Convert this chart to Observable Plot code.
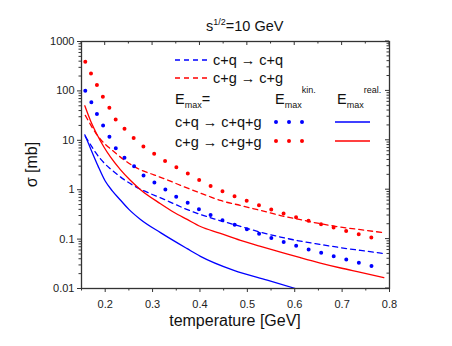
<!DOCTYPE html>
<html><head><meta charset="utf-8">
<script src="https://cdn.jsdelivr.net/npm/d3@7"></script>
<script src="https://cdn.jsdelivr.net/npm/@observablehq/plot@0.6"></script>
<style>body{margin:0;background:#fff}</style>
</head><body><div id="chart"></div>
<script>
// ---- tick values / labels ----
const xTicks = [0.2, 0.3, 0.4, 0.5, 0.6, 0.7, 0.8];
const xTickLabels = ["0.2", "0.3", "0.4", "0.5", "0.6", "0.7", "0.8"];
const xMinorTicks = [0.15, 0.25, 0.35, 0.45, 0.55, 0.65, 0.75];
const yTicks = [0.01, 0.1, 1, 10, 100, 1000];
const yTickLabels = ["0.01", "0.1", "1", "10", "100", "1000"];
const yMinorTicks = [0.01, 0.1, 1, 10, 100].flatMap(d => [2,3,4,5,6,7,8,9].map(k => +(d * k).toPrecision(3)));

// ---- series: temperature [GeV] and sigma [mb] ----
// c+q -> c+q (dashed blue)
const qqT = [0.158,0.17,0.18,0.19,0.2,0.21,0.225,0.24,0.2745,0.2956,0.3207,0.3448,0.372,0.401,0.4292,0.4575,0.4856,0.5278,0.57,0.612,0.654,0.697,0.739,0.788];
const qqS = [12,7.9,5.6,4.2,3.3,2.7,2.05,1.6,1.02,0.83,0.66,0.52,0.40,0.315,0.258,0.215,0.18,0.138,0.11,0.091,0.078,0.067,0.059,0.051];
// c+g -> c+g (dashed red)
const ggT = [0.158,0.17,0.18,0.19,0.2,0.21,0.225,0.24,0.2745,0.3026,0.331,0.359,0.387,0.415,0.443,0.4856,0.528,0.57,0.612,0.654,0.697,0.739,0.788];
const ggS = [32,20,14,10.5,8.3,6.9,5.2,4.0,2.52,2.0,1.58,1.22,0.96,0.76,0.605,0.48,0.38,0.30,0.247,0.205,0.175,0.155,0.135];
// c+q -> c+q+g, E_max kin. (dotted blue)
const qqgKinT = [0.158,0.171,0.182,0.195,0.208,0.22,0.238,0.257,0.2785,0.2995,0.324,0.348,0.372,0.394,0.417,0.443,0.468,0.4925,0.519,0.545,0.57,0.596,0.621,0.6475,0.673,0.699,0.7255,0.751,0.778];
const qqgKinS = [101,58.6,35,20.5,12.3,7.47,4.69,3.23,2.03,1.49,1.06,0.74,0.56,0.42,0.326,0.25,0.205,0.167,0.135,0.11,0.091,0.077,0.065,0.0556,0.0475,0.0407,0.0349,0.0304,0.0264];
// c+g -> c+g+g, E_max kin. (dotted red)
const gggKinT = [0.158,0.17,0.182,0.194,0.208,0.22,0.238,0.257,0.278,0.3,0.325,0.35,0.376,0.417,0.468,0.493,0.57,0.648,0.726,0.778];
const gggKinS = [389,226,135,80,47,28.4,18.3,11.9,7.8,5.6,3.9,2.85,2.09,1.26,0.774,0.625,0.346,0.21,0.132,0.0986];
// c+q -> c+q+g, E_max real. (solid blue)
const qqgRealT = [0.157,0.165,0.175,0.185,0.2,0.215,0.232,0.25,0.2745,0.3167,0.373,0.401,0.4715,0.542,0.6016];
const qqgRealS = [12.9,8.5,5.0,3.0,1.5,0.95,0.62,0.4,0.25,0.135,0.064,0.0448,0.0233,0.0147,0.01];
// c+g -> c+g+g, E_max real. (solid red)
const gggRealT = [0.157,0.169,0.183,0.197,0.211,0.232,0.253,0.2745,0.3167,0.3448,0.373,0.401,0.4415,0.4856,0.5278,0.57,0.612,0.654,0.697,0.739,0.788];
const gggRealS = [50,25,13,7.4,4.6,2.55,1.55,1.0,0.52,0.35,0.25,0.18,0.132,0.094,0.071,0.0546,0.042,0.0327,0.026,0.0212,0.0166];

const BLUE = "#0000ff", RED = "#ff0000";
const rows = (T, S) => T.map((t, i) => ({T: t, s: S[i]}));
const common = {x: "T", y: "s", curve: "monotone-x", clip: true};
const dashed = {strokeWidth: 1.3, strokeDasharray: "5,4"};
const dotted = {strokeWidth: 4, strokeDasharray: "0,13", strokeLinecap: "round"};
const solid = {strokeWidth: 1.3};

const plot = Plot.plot({
  width: 452, height: 346,
  marginLeft: 81, marginRight: 63, marginTop: 41, marginBottom: 58,
  x: {domain: [0.15, 0.8], label: null},
  y: {type: "log", domain: [0.01, 1000], label: null},
  style: {fontFamily: "'Liberation Sans', Arial, sans-serif", fontSize: "11px", color: "#222", background: "#fff"},
  marks: [
    Plot.line(rows(qqT, qqS), {...common, ...dashed, stroke: BLUE}),
    Plot.line(rows(ggT, ggS), {...common, ...dashed, stroke: RED}),
    Plot.line(rows(qqgKinT, qqgKinS), {...common, ...dotted, stroke: BLUE}),
    Plot.line(rows(gggKinT, gggKinS), {...common, ...dotted, stroke: RED}),
    Plot.line(rows(qqgRealT, qqgRealS), {...common, ...solid, stroke: BLUE}),
    Plot.line(rows(gggRealT, gggRealS), {...common, ...solid, stroke: RED}),
    Plot.axisX({ticks: xTicks, tickSize: 4, tickPadding: 8, tickFormat: d => xTickLabels[xTicks.indexOf(d)], label: null, stroke: "#333"}),
    Plot.axisX({ticks: xMinorTicks, tickSize: 2.5, tickFormat: () => "", label: null, stroke: "#333"}),
    Plot.axisY({ticks: yTicks, tickSize: 4, tickPadding: 3, tickFormat: d => yTickLabels[yTicks.indexOf(d)], label: null, stroke: "#333"}),
    Plot.axisY({ticks: yMinorTicks, tickSize: 2.5, tickFormat: () => "", label: null, stroke: "#333"}),
    Plot.frame({stroke: "#333", strokeWidth: 1.3})
  ]
});
document.getElementById("chart").appendChild(plot);

// ---- mirrored inward ticks on top and right, labels, legend ----
const svg = d3.select(plot);
const sx = v => plot.scale("x").apply(v);
const sy = v => plot.scale("y").apply(v);
const L = sx(0.15), R = sx(0.8), T0 = sy(1000), B = sy(0.01);
const g = svg.append("g").attr("stroke", "#333").attr("stroke-width", 1);
xTicks.forEach(v => g.append("line").attr("x1", sx(v)).attr("x2", sx(v)).attr("y1", T0).attr("y2", T0 + 4));
xMinorTicks.forEach(v => g.append("line").attr("x1", sx(v)).attr("x2", sx(v)).attr("y1", T0).attr("y2", T0 + 2.5));
yTicks.forEach(v => g.append("line").attr("x1", R).attr("x2", R - 4).attr("y1", sy(v)).attr("y2", sy(v)));
yMinorTicks.forEach(v => g.append("line").attr("x1", R).attr("x2", R - 2.5).attr("y1", sy(v)).attr("y2", sy(v)));

const FONT = "'Liberation Sans', Arial, sans-serif";
function txt(x, y, size, anchor) {
  return svg.append("text").attr("x", x).attr("y", y).attr("font-family", FONT)
    .attr("font-size", size).attr("fill", "#111").attr("text-anchor", anchor || "start");
}
// title
const t = txt(206, 31, 14.5);
t.append("tspan").text("s");
t.append("tspan").attr("font-size", 9).attr("dy", -6).text("1/2");
t.append("tspan").attr("dy", 6).text("=10 GeV");
// axis labels
txt((L + R) / 2, 326, 16, "middle").text("temperature [GeV]");
txt(0, 0, 16, "middle").attr("transform", `translate(37,${(T0 + B) / 2}) rotate(-90)`).text("σ [mb]");

// legend
const lg = svg.append("g");
function sample(x1, x2, y, color, style) {
  lg.append("line").attr("x1", x1).attr("x2", x2).attr("y1", y).attr("y2", y)
    .attr("stroke", color).attr("stroke-width", style.strokeWidth)
    .attr("stroke-dasharray", style.strokeDasharray || null)
    .attr("stroke-linecap", style.strokeLinecap || "butt");
}
const LS = 14.5;
sample(175, 208, 60, BLUE, dashed);
txt(213, 65, LS).text("c+q → c+q");
sample(175, 208, 78, RED, dashed);
txt(213, 83, LS).text("c+g → c+g");
function emax(x, y, sup) {
  const e = txt(x, y, LS);
  e.append("tspan").text("E");
  e.append("tspan").attr("font-size", 9).attr("dy", 4).text("max");
  if (sup) e.append("tspan").attr("font-size", 9).attr("dy", -15).text(sup);
  else e.append("tspan").attr("dy", -4).text("=");
}
emax(175, 104, null);
emax(275, 104, "kin.");
emax(337, 104, "real.");
txt(175, 127, LS).text("c+q → c+q+g");
sample(276, 306, 122, BLUE, dotted);
sample(335, 370, 122, BLUE, solid);
txt(175, 147, LS).text("c+g → c+g+g");
sample(276, 306, 141, RED, dotted);
sample(335, 370, 141, RED, solid);
</script></body></html>
